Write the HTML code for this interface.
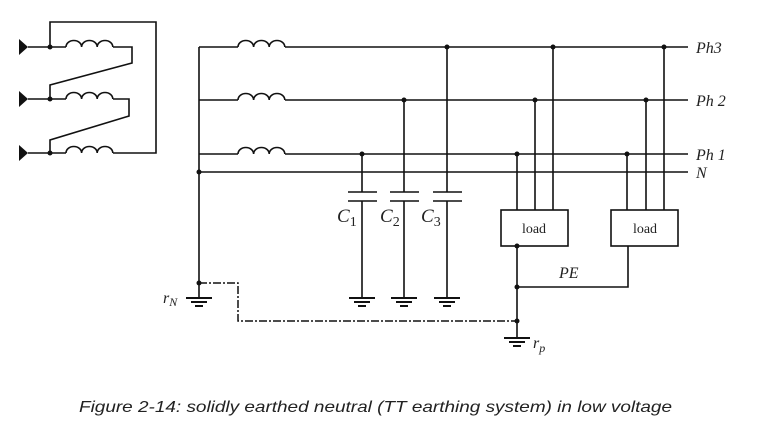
<!DOCTYPE html>
<html><head><meta charset="utf-8"><style>
html,body{margin:0;padding:0;background:#fff;}
svg{display:block;}
.t{font-family:"Liberation Serif",serif;font-style:italic;fill:#222;}
</style></head><body>
<svg width="773" height="431" viewBox="0 0 773 431" xmlns="http://www.w3.org/2000/svg">
<defs>
<g id="coil"><path d="M0 0 a7.8 6.5 0 0 1 15.6 0 a7.8 6.5 0 0 1 15.6 0 a7.8 6.5 0 0 1 15.6 0" fill="none" stroke="#111" stroke-width="1.6"/></g>
<g id="gnd" stroke="#111" stroke-width="2"><line x1="-13" y1="0" x2="13" y2="0"/><line x1="-8" y1="4" x2="8" y2="4"/><line x1="-4" y1="8" x2="4" y2="8"/></g>
</defs>
<g stroke="#111" stroke-width="1.6" fill="none">
<!-- transformer -->
<path d="M28 47 H66 M113 47 H132 V63 L50 85 V99"/>
<path d="M28 99 H66 M113 99 H129 V116 L50 140 V153"/>
<path d="M28 153 H66 M113 153 H156 V22 H50 V47"/>
<!-- network -->
<path d="M199 47 H238 M285 47 H688"/>
<path d="M199 100 H238 M285 100 H688"/>
<path d="M199 154 H238 M285 154 H688"/>
<path d="M199 172 H688"/>
<path d="M199 47 V298"/>
<!-- caps -->
<path d="M362 154 V192 M348 192 H377 M348 201 H377 M362 201 V298"/>
<path d="M404 100 V192 M390 192 H419 M390 201 H419 M404 201 V298"/>
<path d="M447 47 V192 M433 192 H462 M433 201 H462 M447 201 V298"/>
<!-- loads -->
<rect x="501" y="210" width="67" height="36"/>
<rect x="611" y="210" width="67" height="36"/>
<path d="M517 154 V210 M535 100 V210 M553 47 V210"/>
<path d="M627 154 V210 M646 100 V210 M664 47 V210"/>
<path d="M517 246 V338 M517 287 H628 V246"/>
<!-- dash dot -->
<path d="M199 283 H238 V321 H517" stroke-dasharray="8 2 2 2" stroke-width="1.5"/>
</g>
<g fill="#111">
<polygon points="19,39 28,47 19,55"/>
<polygon points="19,91 28,99 19,107"/>
<polygon points="19,145 28,153 19,161"/>
<circle cx="50" cy="47" r="2.5"/><circle cx="50" cy="99" r="2.5"/><circle cx="50" cy="153" r="2.5"/>
<circle cx="199" cy="172" r="2.5"/><circle cx="199" cy="283" r="2.5"/>
<circle cx="362" cy="154" r="2.5"/><circle cx="404" cy="100" r="2.5"/><circle cx="447" cy="47" r="2.5"/>
<circle cx="517" cy="154" r="2.5"/><circle cx="535" cy="100" r="2.5"/><circle cx="553" cy="47" r="2.5"/>
<circle cx="627" cy="154" r="2.5"/><circle cx="646" cy="100" r="2.5"/><circle cx="664" cy="47" r="2.5"/>
<circle cx="517" cy="246" r="2.5"/><circle cx="517" cy="287" r="2.5"/><circle cx="517" cy="321" r="2.5"/>
</g>
<use href="#coil" x="66" y="47"/><use href="#coil" x="66" y="99"/><use href="#coil" x="66" y="153"/>
<use href="#coil" x="238" y="47"/><use href="#coil" x="238" y="100"/><use href="#coil" x="238" y="154"/>
<use href="#gnd" x="199" y="298"/><use href="#gnd" x="362" y="298"/><use href="#gnd" x="404" y="298"/><use href="#gnd" x="447" y="298"/><use href="#gnd" x="517" y="338"/>
<text class="t" x="696" y="53" font-size="16">Ph3</text>
<text class="t" x="696" y="106" font-size="16">Ph 2</text>
<text class="t" x="696" y="160" font-size="16">Ph 1</text>
<text class="t" x="696" y="178" font-size="16">N</text>
<text class="t" x="337" y="222" font-size="19">C<tspan font-style="normal" font-size="14" dy="4">1</tspan></text>
<text class="t" x="380" y="222" font-size="19">C<tspan font-style="normal" font-size="14" dy="4">2</tspan></text>
<text class="t" x="421" y="222" font-size="19">C<tspan font-style="normal" font-size="14" dy="4">3</tspan></text>
<text x="534" y="233" font-family="Liberation Serif,serif" font-size="14" text-anchor="middle" fill="#222">load</text>
<text x="645" y="233" font-family="Liberation Serif,serif" font-size="14" text-anchor="middle" fill="#222">load</text>
<text class="t" x="559" y="278" font-size="16">PE</text>
<text class="t" x="163" y="303" font-size="16">r<tspan font-size="12" dy="3">N</tspan></text>
<text class="t" x="533" y="348" font-size="16">r<tspan font-size="12" dy="4">p</tspan></text>
<text x="79" y="412" font-family="Liberation Sans,sans-serif" font-style="italic" font-size="16" fill="#222" textLength="593" lengthAdjust="spacingAndGlyphs">Figure 2-14: solidly earthed neutral  (TT earthing system) in low voltage</text>
</svg>
</body></html>
